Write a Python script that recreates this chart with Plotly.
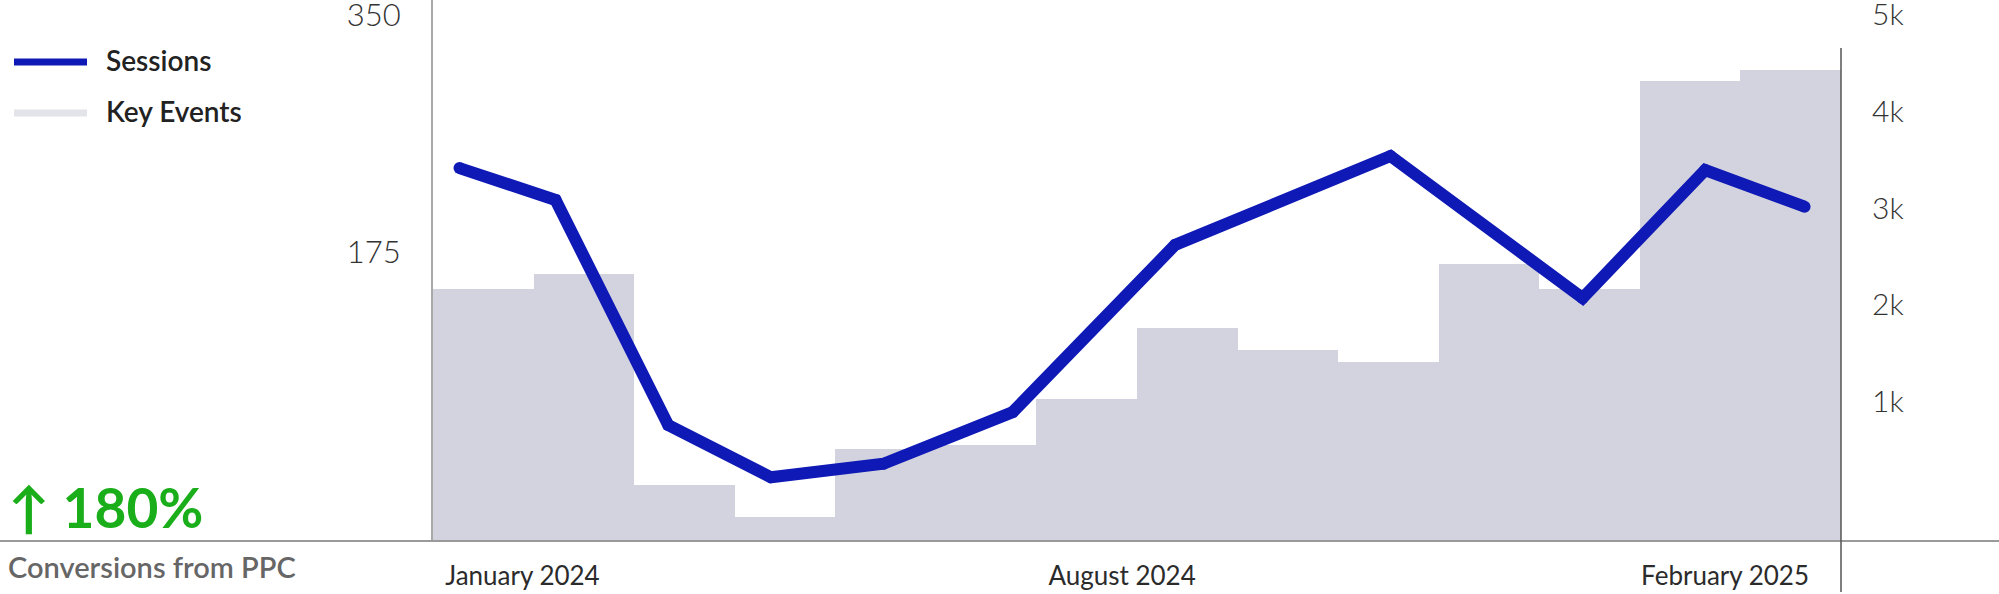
import plotly.graph_objects as go

# ---------------- data ----------------
months = ["Jan 2024", "Feb 2024", "Mar 2024", "Apr 2024", "May 2024", "Jun 2024", "Jul 2024",
          "Aug 2024", "Sep 2024", "Oct 2024", "Nov 2024", "Dec 2024", "Jan 2025", "Feb 2025"]
key_events = [186, 197, 41, 18, 68, 71, 105, 157, 141, 132, 204, 186, 339, 347]

session_dates = ["2024-01-09", "2024-02-07", "2024-03-12", "2024-04-12", "2024-05-16", "2024-06-24",
                 "2024-08-12", "2024-10-16", "2024-12-13", "2025-01-19", "2025-02-18"]
sessions = [3860, 3530, 1200, 660, 800, 1335, 3065, 3985, 2515, 3840, 3460]

left_ticks = [175, 350]
right_ticks = [1000, 2000, 3000, 4000, 5000]
right_ticktext = ["1k", "2k", "3k", "4k", "5k"]
x_label_dates = ["2024-01-28", "2024-07-27", "2025-01-25"]
x_label_text = ["January 2024", "August 2024", "February 2025"]

# ---------------- layout helpers ----------------
W, H = 1999, 594
L, R, T, B = 433, 158, 0, 53
PW, PH = W - L - R, H - T - B


def px(x):
    return (x - L) / PW


def py(y):
    return (H - B - y) / PH


FONT = "Lato"
BLUE = "#0F19B5"
BAR = "#D2D3DE"

fig = go.Figure()
fig.add_trace(go.Bar(x=months, y=key_events, marker=dict(color=BAR, line=dict(width=0)),
                     name="Key Events", xaxis="x", yaxis="y", showlegend=False))
fig.add_trace(go.Scatter(x=session_dates, y=sessions, mode="lines+markers", name="Sessions",
                         line=dict(color=BLUE, width=12), marker=dict(color=BLUE, size=12),
                         xaxis="x2", yaxis="y2", showlegend=False))

fig.update_layout(
    width=W, height=H,
    margin=dict(l=L, r=R, t=T, b=B, autoexpand=False),
    paper_bgcolor="white", plot_bgcolor="white",
    bargap=0,
    font=dict(family=FONT, color="#333"),
    xaxis=dict(type="category", range=[-0.5, 13.5], showticklabels=False, showgrid=False,
               zeroline=False, showline=False, ticks="", automargin=False),
    xaxis2=dict(type="date", overlaying="x", side="bottom", range=["2024-01-01", "2025-03-01"],
                tickvals=x_label_dates, ticktext=x_label_text, showgrid=False, zeroline=False,
                showline=False, ticks="", ticklabelstandoff=17, ticklabeloverflow="allow",
                automargin=False,
                tickfont=dict(family=FONT, size=26, color="#2b2b2b")),
    yaxis=dict(range=[0, 398.7], tickvals=left_ticks, showgrid=False, zeroline=False,
               showline=True, linecolor="#A8A8A8", linewidth=2, ticks="",
               ticklabelshift=-51, ticklabelstandoff=24, ticklabeloverflow="allow",
               automargin=False,
               tickfont=dict(family=FONT, size=31, color="#333", weight=300)),
    yaxis2=dict(range=[0, 5600], overlaying="y", side="right", tickvals=right_ticks,
                ticktext=right_ticktext, showgrid=False, zeroline=False, showline=False,
                ticks="", ticklabelshift=-43, ticklabelstandoff=30, ticklabeloverflow="allow",
                automargin=False,
                tickfont=dict(family=FONT, size=30, color="#333", weight=300)),
)

shapes = [
    # baseline across the whole width
    dict(type="line", xref="paper", yref="paper", x0=px(0), x1=px(W), y0=py(541), y1=py(541),
         line=dict(color="#9A9A9A", width=2)),
    # right axis line
    dict(type="line", xref="paper", yref="paper", x0=1, x1=1, y0=py(48), y1=py(592),
         line=dict(color="#555", width=1.5)),
    # legend swatches
    dict(type="line", xref="paper", yref="paper", x0=px(14), x1=px(87), y0=py(62), y1=py(62),
         line=dict(color=BLUE, width=7)),
    dict(type="line", xref="paper", yref="paper", x0=px(14), x1=px(87), y0=py(113), y1=py(113),
         line=dict(color="#E3E4EA", width=7)),
]

annotations = [
    dict(text="Sessions", xref="paper", yref="paper", x=px(104), y=py(60), xanchor="left",
         yanchor="middle", showarrow=False, font=dict(family=FONT, size=28, color="#222", weight=600)),
    dict(text="Key Events", xref="paper", yref="paper", x=px(104), y=py(111), xanchor="left",
         yanchor="middle", showarrow=False, font=dict(family=FONT, size=28, color="#222", weight=600)),
    dict(text="↑ 180%", xref="paper", yref="paper", x=px(6), y=py(507), xanchor="left",
         yanchor="middle", showarrow=False, font=dict(family=FONT, size=55, color="#1AAE1A", weight=700)),
    dict(text="Conversions from PPC", xref="paper", yref="paper", x=px(6), y=py(566), xanchor="left",
         yanchor="middle", showarrow=False, font=dict(family=FONT, size=29, color="#666", weight=600)),
]

fig.update_layout(shapes=shapes, annotations=annotations)
fig.write_html("out.html", config={"displayModeBar": False},
               post_script="document.body.style.margin='0';")
